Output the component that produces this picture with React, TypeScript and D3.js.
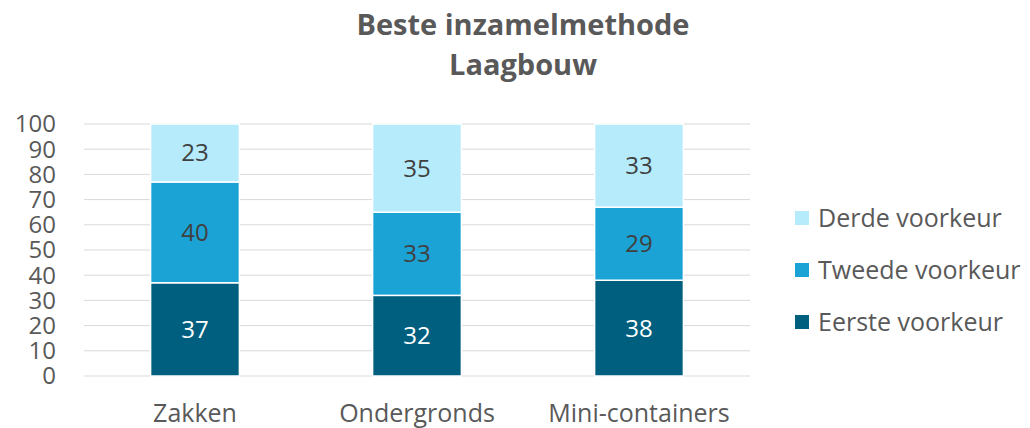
import React from "react";
import * as d3 from "d3";

const categories = ["Zakken", "Ondergronds", "Mini-containers"];
const eerste = [37, 32, 38];
const tweede = [40, 33, 29];
const derde = [23, 35, 33];
const seriesNames = ["Eerste voorkeur", "Tweede voorkeur", "Derde voorkeur"];
const seriesColors = ["#005f7f", "#1ba3d6", "#b5ebfb"];
const labelColors = ["#ffffff", "#404040", "#404040"];
const yTicks = [0, 10, 20, 30, 40, 50, 60, 70, 80, 90, 100];
const titleLines = ["Beste inzamelmethode", "Laagbouw"];

const W = 1030, H = 428;
const FONT = "'Open Sans', sans-serif";

export default function App() {
  const x = d3.scaleBand().domain(categories).range([84, 750]).paddingInner(0.6).paddingOuter(0.3);
  const y = d3.scaleLinear().domain([0, 100]).range([376, 124]);

  const table = categories.map((c, i) => ({ cat: c, e: eerste[i], t: tweede[i], d: derde[i] }));
  const stack = d3.stack<any>().keys(["e", "t", "d"])(table);

  return (
    <svg width={W} height={H} style={{ display: "block", position: "absolute", left: 0, top: 0 }} fontFamily={FONT}>
      <rect width={W} height={H} fill="#fff" />
      {titleLines.map((t, i) => (
        <text key={t} x={523} y={35 + i * 40} textAnchor="middle" fontSize={29} fontWeight="bold" fill="#595959">{t}</text>
      ))}
      {yTicks.map((v) => (
        <g key={v}>
          <line x1={84} x2={750} y1={y(v)} y2={y(v)} stroke="#d9d9d9" strokeWidth={1} />
          <text x={56} y={y(v)} dy="0.35em" textAnchor="end" fontSize={24} fill="#595959">{v}</text>
        </g>
      ))}
      {stack.map((s, si) => (
        <g key={si}>
          {s.map((d, i) => {
            const x0 = x(categories[i])!;
            const y0 = y(d[1]);
            const h = y(d[0]) - y(d[1]);
            const val = d[1] - d[0];
            return (
              <g key={i}>
                <rect x={x0} y={y0} width={x.bandwidth()} height={h} fill={seriesColors[si]} stroke="#fff" strokeWidth={1.5} />
                <text x={x0 + x.bandwidth() / 2} y={y0 + h / 2} dy="0.35em" textAnchor="middle" fontSize={24} fill={labelColors[si]}>{val}</text>
              </g>
            );
          })}
        </g>
      ))}
      {categories.map((c) => (
        <text key={c} x={x(c)! + x.bandwidth() / 2} y={413} dy="0.35em" textAnchor="middle" fontSize={25} fill="#595959">{c}</text>
      ))}
      {[2, 1, 0].map((si, k) => (
        <g key={si} transform={`translate(795, ${218 + k * 52})`}>
          <rect x={0} y={-7} width={14} height={14} fill={seriesColors[si]} />
          <text x={23} y={0} dy="0.35em" fontSize={25} fill="#595959">{seriesNames[si]}</text>
        </g>
      ))}
    </svg>
  );
}
